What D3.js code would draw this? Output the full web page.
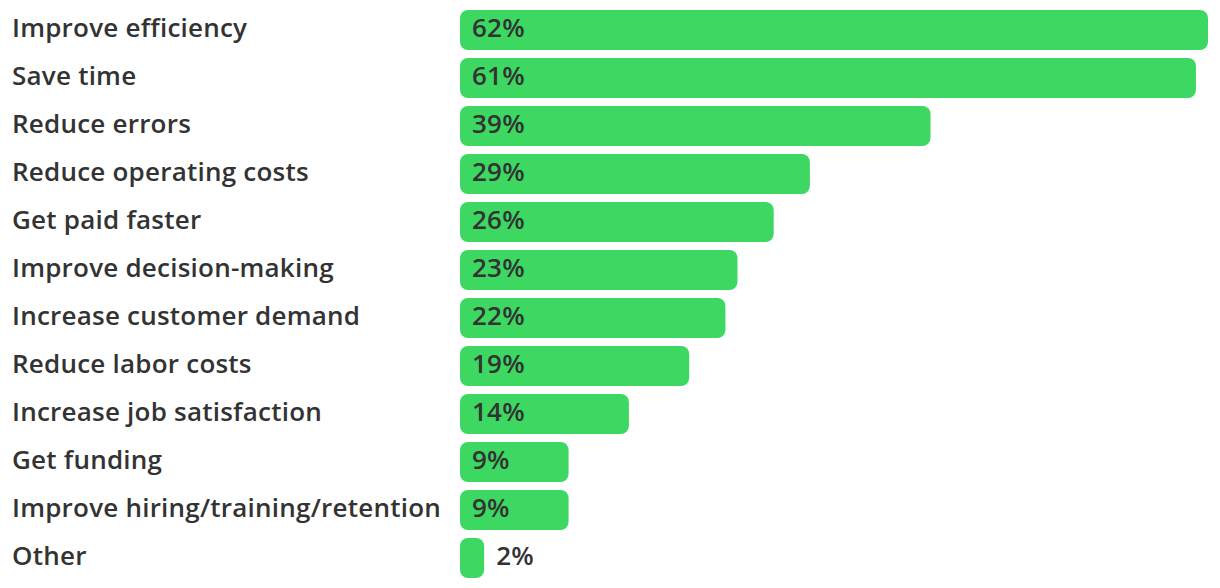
<!DOCTYPE html>
<html><head><meta charset="utf-8">
<script src="https://cdn.jsdelivr.net/npm/d3@7"></script>
<style>html,body{margin:0;padding:0;background:#fff;}svg{display:block;}</style>
</head><body>
<svg id="chart" width="1220" height="588"></svg>
<script>
const categories = ["Improve efficiency","Save time","Reduce errors","Reduce operating costs","Get paid faster","Improve decision-making","Increase customer demand","Reduce labor costs","Increase job satisfaction","Get funding","Improve hiring/training/retention","Other"];
const values = [62,61,39,29,26,23,22,19,14,9,9,2];
const valueLabels = ["62%","61%","39%","29%","26%","23%","22%","19%","14%","9%","9%","2%"];

const svg = d3.select("#chart");
const font = "'Open Sans', sans-serif";
const fs = 26;
const y = d3.scaleBand().domain(categories).range([6,582]).paddingInner(1/6).paddingOuter(1/12);
const x = d3.scaleLinear().domain([0,62]).range([460,1208]);
const data = categories.map((c,i)=>({c, v:values[i], l:valueLabels[i]}));

const cats = svg.selectAll("text.cat").data(data).join("text").attr("class","cat")
  .attr("x",12).attr("y",d=>y(d.c)+y.bandwidth()/2).attr("dy",6.7)
  .attr("font-family",font).attr("font-weight",600).attr("font-size",fs)
  .attr("fill","#333").text(d=>d.c);

// fit letter spacing so the longest label spans like the reference
let maxW = 0, maxN = 1;
cats.each(function(d){ const w = this.getComputedTextLength(); if (w > maxW){ maxW = w; maxN = d.c.length; } });
const ls = Math.max(0, (429 - maxW) / maxN);
cats.attr("letter-spacing", ls);

svg.selectAll("rect.bar").data(data).join("rect").attr("class","bar")
  .attr("x",x(0)).attr("y",d=>y(d.c)).attr("width",d=>x(d.v)-x(0)).attr("height",y.bandwidth())
  .attr("rx",8).attr("ry",8).attr("fill","#3dd862");

svg.selectAll("text.val").data(data).join("text").attr("class","val")
  .attr("x",d=> (x(d.v)-x(0) > 80) ? x(0)+12 : x(d.v)+12)
  .attr("y",d=>y(d.c)+y.bandwidth()/2).attr("dy",6.7)
  .attr("font-family",font).attr("font-weight",600).attr("font-size",fs)
  .attr("letter-spacing", ls)
  .attr("fill","#333").text(d=>d.l);
</script>
</body></html>
